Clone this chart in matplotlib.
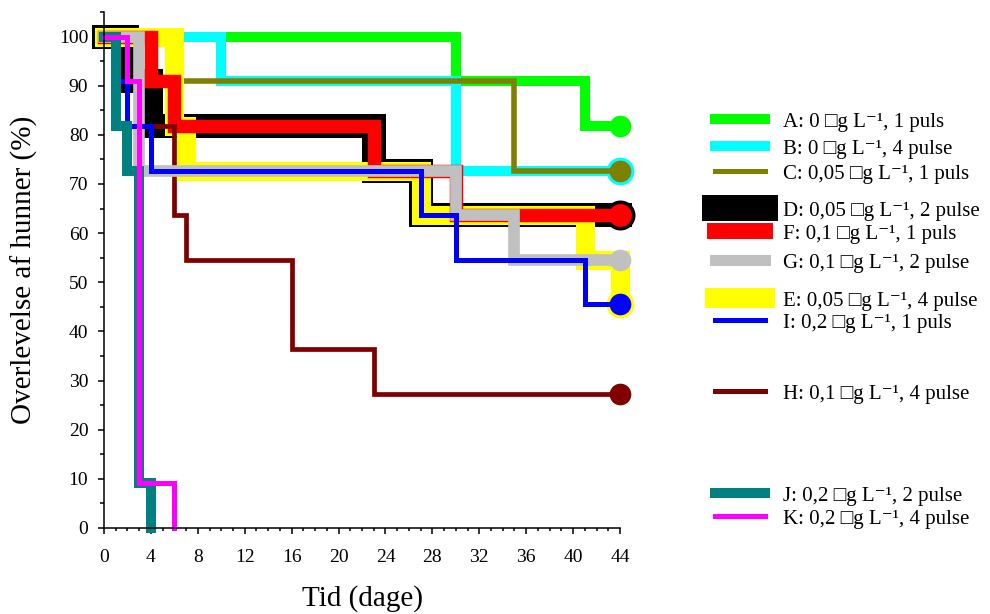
import matplotlib
matplotlib.use('Agg')
import matplotlib.pyplot as plt
from matplotlib.lines import Line2D
from matplotlib.ticker import MultipleLocator

plt.rcParams['font.family'] = ['Liberation Serif', 'DejaVu Serif']

# survival curves (days, % surviving hens)
# drawing order matters: later groups sit on top
groups = ['A', 'B', 'C', 'D', 'E', 'F', 'H', 'G', 'I', 'J', 'K']
days = {
    'A': [0, 30, 41, 44],
    'B': [0, 10, 30, 44],
    'C': [0, 6, 35, 44],
    'D': [0, 2, 4, 23, 27, 44],
    'E': [0, 6, 7, 27, 41, 44],
    'F': [0, 4, 6, 23, 30, 44],
    'G': [0, 3, 30, 35, 44],
    'H': [0, 3, 6, 7, 16, 23, 44],
    'I': [0, 1, 2, 4, 27, 30, 41, 44],
    'J': [0, 1, 2, 3, 4],
    'K': [0, 2, 3, 6],
}
surv = {
    'A': [100, 90.9, 81.8, 81.8],
    'B': [100, 90.9, 72.7, 72.7],
    'C': [100, 90.9, 72.7, 72.7],
    'D': [100, 90.9, 81.8, 72.7, 63.6, 63.6],
    'E': [100, 81.8, 72.7, 63.6, 54.5, 45.5],
    'F': [100, 90.9, 81.8, 72.7, 63.6, 63.6],
    'G': [100, 72.7, 63.6, 54.5, 54.5],
    'H': [100, 81.8, 63.6, 54.5, 36.4, 27.3, 27.3],
    'I': [100, 90.9, 81.8, 72.7, 63.6, 54.5, 45.5, 45.5],
    'J': [100, 81.8, 72.7, 9.1, 0],
    'K': [100, 90.9, 9.1, 0],
}
labels = {
    'A': 'A: 0 \u25a1g L\u207b\u00b9, 1 puls',
    'B': 'B: 0 \u25a1g L\u207b\u00b9, 4 pulse',
    'C': 'C: 0,05 \u25a1g L\u207b\u00b9, 1 puls',
    'D': 'D: 0,05 \u25a1g L\u207b\u00b9, 2 pulse',
    'F': 'F: 0,1 \u25a1g L\u207b\u00b9, 1 puls',
    'G': 'G: 0,1 \u25a1g L\u207b\u00b9, 2 pulse',
    'E': 'E: 0,05 \u25a1g L\u207b\u00b9, 4 pulse',
    'I': 'I: 0,2 \u25a1g L\u207b\u00b9, 1 puls',
    'H': 'H: 0,1 \u25a1g L\u207b\u00b9, 4 pulse',
    'J': 'J: 0,2 \u25a1g L\u207b\u00b9, 2 pulse',
    'K': 'K: 0,2 \u25a1g L\u207b\u00b9, 4 pulse',
}

# colour, line width (pt), end marker size (pt) or None
style = {
    'A': ('#00ff00', 7.2, 15.6),
    'B': ('#00ffff', 7.2, 20.0),
    'C': ('#808000', 4.0, 15.6),
    'D': ('#000000', 17.3, 21.6),
    'E': ('#ffff00', 13.7, 20.0),
    'F': ('#ff0000', 9.7, 16.5),
    'G': ('#c0c0c0', 8.4, 15.6),
    'H': ('#800000', 3.4, 15.6),
    'I': ('#0000ff', 3.6, 15.6),
    'J': ('#008080', 7.2, None),
    'K': ('#ff00ff', 3.6, None),
}

fig = plt.figure(figsize=(9.9, 6.14), dpi=100)
ax = fig.add_axes([104 / 990, 1 - 528 / 614, 516 / 990, 516 / 614])

for g in groups:
    col, lw, ms = style[g]
    ax.step(days[g], surv[g], where='post', color=col, lw=lw,
            solid_capstyle='projecting', solid_joinstyle='miter', clip_on=False)
    if ms:
        ax.plot([days[g][-1]], [surv[g][-1]], 'o', color=col, ms=ms,
                mew=0, clip_on=False)

ax.set_xlim(0, 44)
ax.set_ylim(0, 105)
ax.xaxis.set_major_locator(MultipleLocator(4))
ax.xaxis.set_minor_locator(MultipleLocator(1))
ax.yaxis.set_major_locator(MultipleLocator(10))
ax.yaxis.set_minor_locator(MultipleLocator(5))
ax.set_yticks(range(0, 101, 10))
ax.tick_params(axis='both', which='both', direction='out', width=1.1, labelsize=14)
ax.tick_params(axis='x', which='major', length=4.3, pad=11)
ax.tick_params(axis='x', which='minor', length=2.5)
ax.tick_params(axis='y', which='major', length=4.3, pad=7)
ax.tick_params(axis='y', which='minor', length=3)
for s in ['top', 'right']:
    ax.spines[s].set_visible(False)
for s in ['left', 'bottom']:
    ax.spines[s].set_linewidth(1.1)

ax.set_xlabel('Tid (dage)', fontsize=21, va='baseline')
ax.set_ylabel('Overlevelse af hunner (%)', fontsize=21)
ax.xaxis.set_label_coords(0.5, (528 - 606) / 516)
ax.yaxis.set_label_coords((38 - 104) / 516, 0.5)

# hand-placed legend, as in the original
leg_y = {'A': 119, 'B': 146, 'C': 171, 'D': 208, 'F': 231, 'G': 260,
         'E': 298, 'I': 320, 'H': 391, 'J': 493, 'K': 516}
leg_lw = {'A': 7.2, 'B': 7.2, 'C': 3.6, 'D': 18.7, 'F': 11.5, 'G': 7.9,
          'E': 14.4, 'I': 3.6, 'H': 3.6, 'J': 7.2, 'K': 3.6}
for g in ['A', 'B', 'C', 'D', 'F', 'G', 'E', 'I', 'H', 'J', 'K']:
    y = 1 - leg_y[g] / 614
    fig.add_artist(Line2D([715 / 990, 765 / 990], [y, y], color=style[g][0],
                          lw=leg_lw[g], solid_capstyle='projecting',
                          transform=fig.transFigure))
    fig.text(783 / 990, 1 - (leg_y[g] + 8) / 614, labels[g], fontsize=15,
             va='baseline', ha='left')

fig.savefig('out.png', dpi=100)
